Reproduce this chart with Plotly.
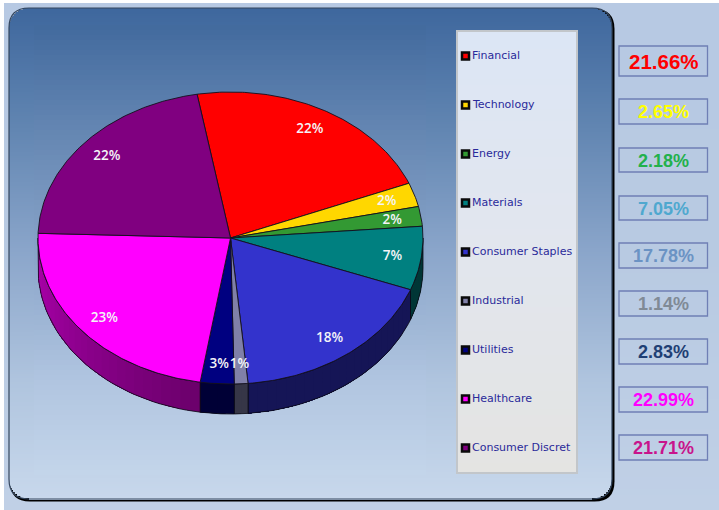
import numpy as np
import plotly.graph_objects as go

categories = ["Financial", "Technology", "Energy", "Materials", "Consumer Staples",
              "Industrial", "Utilities", "Healthcare", "Consumer Discret"]
weights = [21.66, 2.65, 2.18, 7.05, 17.78, 1.14, 2.83, 22.99, 21.71]
weight_labels = ["21.66%", "2.65%", "2.18%", "7.05%", "17.78%", "1.14%", "2.83%", "22.99%", "21.71%"]
pie_labels = ["22%", "2%", "2%", "7%", "18%", "1%", "3%", "23%", "22%"]
slice_colors = ["#ff0000", "#ffd700", "#339933", "#008080", "#3333cc",
                "#8080a8", "#000080", "#ff00ff", "#800080"]
value_colors = ["#ff0000", "#ffff00", "#22b14c", "#4fa8cf", "#6b93c4",
                "#808a96", "#1f3f74", "#ff00ff", "#c8148c"]
value_sizes = [20.5, 18, 18, 18, 18, 18, 18, 18, 18]

W, H = 719, 510
CX, CY, RX, RY, DEPTH = 230.5, 238, 192.5, 146, 30
START = -10.0


def lerp_stops(stops, y):
    ys = [s[0] for s in stops]
    return tuple(np.interp(y, ys, [s[1][i] for s in stops]) for i in range(3))


def rgb(c):
    return "rgb(%d,%d,%d)" % tuple(int(round(v)) for v in c)


def hex2rgb(h):
    return tuple(int(h[i:i + 2], 16) for i in (1, 3, 5))


def rect(x0, y0, x1, y1, color, layer="below"):
    return dict(type="rect", xref="x", yref="y", x0=x0, y0=y0, x1=x1, y1=y1,
                fillcolor=color, line=dict(width=0), layer=layer)


def rr_path(x0, y0, x1, y1, r):
    return (f"M{x0+r},{y0} L{x1-r},{y0} Q{x1},{y0} {x1},{y0+r} L{x1},{y1-r} Q{x1},{y1} {x1-r},{y1} "
            f"L{x0+r},{y1} Q{x0},{y1} {x0},{y1-r} L{x0},{y0+r} Q{x0},{y0} {x0+r},{y0} Z")


shapes = []
# Outer background
outer = [(3, (183, 201, 227)), (250, (184, 202, 226)), (510, (192, 208, 230))]
for y in range(3, H, 6):
    shapes.append(rect(4, y, W, y + 6, rgb(lerp_stops(outer, y + 3))))

# Panel shadow + gradient
PX0, PY0, PX1, PY1, PR = 9, 8, 612, 499, 20
shapes.append(dict(type="path", xref="x", yref="y", path=rr_path(PX0 + 1, PY0 + 1, PX1 + 2.5, PY1 + 2.5, PR),
                   fillcolor="#000000", line=dict(width=0), layer="below"))
panel = [(8, (62, 103, 157)), (130, (98, 134, 178)), (250, (138, 165, 202)), (380, (175, 196, 222)), (499, (200, 216, 236))]
inner = [(25, (66, 106, 158)), (130, (100, 134, 178)), (250, (136, 163, 200)), (380, (176, 197, 224)), (475, (196, 213, 234))]
for y in range(PY0, PY1, 2):
    ym = y + 1
    inset = 0.0
    if ym < PY0 + PR:
        d = PY0 + PR - ym
        inset = PR - np.sqrt(max(PR ** 2 - d ** 2, 0))
    elif ym > PY1 - PR:
        d = ym - (PY1 - PR)
        inset = PR - np.sqrt(max(PR ** 2 - d ** 2, 0))
    shapes.append(rect(PX0 + inset, y, PX1 - inset, y + 2, rgb(lerp_stops(panel, ym))))
for y in range(25, 475, 5):
    shapes.append(rect(34, y, 426, y + 5, rgb(lerp_stops(inner, y + 2.5))))
shapes.append(dict(type="path", xref="x", yref="y", path=rr_path(PX0, PY0, PX1, PY1, PR),
                   fillcolor="rgba(0,0,0,0)", line=dict(width=1.2, color="#34465e"), layer="below"))

# Legend box
legend_grad = [(31, (220, 230, 245)), (250, (226, 230, 238)), (473, (228, 228, 226))]
for y in range(31, 473, 6):
    shapes.append(rect(457, y, 577, min(y + 6, 473), rgb(lerp_stops(legend_grad, y + 3))))
shapes.append(dict(type="rect", xref="x", yref="y", x0=457, y0=31, x1=577, y1=473,
                   fillcolor="rgba(0,0,0,0)", line=dict(width=2, color="#c2c6ca"), layer="below"))

# Value boxes
box_y0 = [46, 99, 148, 196, 243, 291, 339, 387, 435]
box_y1 = [76, 124, 172, 220, 268, 316, 364, 412, 460]
for a, b in zip(box_y0, box_y1):
    shapes.append(dict(type="rect", xref="x", yref="y", x0=619, y0=a, x1=707.5, y1=b,
                       fillcolor="rgba(0,0,0,0)", line=dict(width=1.3, color="#6f7fb5"), layer="below"))

fig = go.Figure()

vals = np.array(weights, dtype=float)
frac = vals / vals.sum()
edges = START + 360 * np.concatenate([[0], np.cumsum(frac)])


def ex(t, r=1.0):
    return CX + r * RX * np.sin(np.radians(t))


def ey(t, r=1.0):
    return CY - r * RY * np.cos(np.radians(t))


def shade(t):
    # left side of the wall is lit, front and right are darker
    return float(np.interp(t, [90, 190, 270], [0.42, 0.42, 0.68]))


def add_poly(xs, ys, fill, line_color, lw=1.0):
    fig.add_trace(go.Scatter(x=list(xs), y=list(ys), mode="lines", fill="toself", fillcolor=fill,
                             line=dict(color=line_color, width=lw), hoverinfo="skip", showlegend=False))


# Side walls: front half of the ellipse only, painted in order so no seams show
for i, col in enumerate(slice_colors):
    a = max(edges[i], 90)
    b = min(edges[i + 1], 270)
    if b <= a:
        continue
    base = hex2rgb(col)
    n = max(1, int(np.ceil((b - a) / 3)))
    steps = np.linspace(a, b, n + 1)
    for s0, s1 in zip(steps[:-1], steps[1:]):
        ts = np.linspace(s0, b, max(4, int((b - s0) * 1.5)))
        c = rgb(tuple(v * shade((s0 + s1) / 2) for v in base))
        add_poly(np.r_[ex(ts), ex(ts[::-1])], np.r_[ey(ts), ey(ts[::-1]) + DEPTH], c, "rgba(0,0,0,0)", 0)
    ts = np.linspace(a, b, 40)
    fig.add_trace(go.Scatter(x=list(np.r_[ex(ts), ex(ts[::-1]), ex(ts[0])]),
                             y=list(np.r_[ey(ts), ey(ts[::-1]) + DEPTH, ey(ts[0])]),
                             mode="lines", line=dict(color="#0a0a14", width=0.8),
                             hoverinfo="skip", showlegend=False))

# Top slices
for i, col in enumerate(slice_colors):
    ts = np.linspace(edges[i], edges[i + 1], max(8, int((edges[i + 1] - edges[i]) * 1.5)))
    add_poly(np.r_[CX, ex(ts), CX], np.r_[CY, ey(ts), CY], col, "#14101c", 0.9)

# Percent labels on the slices
mids = (edges[:-1] + edges[1:]) / 2
fig.add_trace(go.Scatter(x=list(ex(mids, 0.85)), y=list(ey(mids, 0.86) + 1), mode="text",
                         text=pie_labels, textposition="middle center",
                         textfont=dict(family="Open Sans", size=13.5, color="#f4f4f8", weight=600),
                         hoverinfo="skip", showlegend=False))

# Legend swatches
legend_y = [56, 105, 154, 203, 252, 301, 350, 399, 448]
fig.add_trace(go.Scatter(x=[465.5] * len(categories), y=legend_y, mode="markers",
                         marker=dict(symbol="square", size=7, color=slice_colors,
                                     line=dict(color="#0a0a0a", width=2.5)),
                         hoverinfo="skip", showlegend=False))

annotations = []
for name, y in zip(categories, legend_y):
    annotations.append(dict(x=469.5, y=y - 0.5, xref="x", yref="y", text=name, showarrow=False,
                            xanchor="left", yanchor="middle",
                            font=dict(family="DejaVu Sans", size=11, color="#2a2a9a")))
for lab, col, sz, a, b in zip(weight_labels, value_colors, value_sizes, box_y0, box_y1):
    annotations.append(dict(x=663.5, y=(a + b) / 2 + 0.5, xref="x", yref="y", text=f"<b>{lab}</b>", showarrow=False,
                            xanchor="center", yanchor="middle",
                            font=dict(family="Liberation Sans", size=sz, color=col)))

fig.update_layout(
    width=W, height=H, margin=dict(l=0, r=0, t=0, b=0, pad=0),
    paper_bgcolor="#ffffff", plot_bgcolor="rgba(0,0,0,0)",
    xaxis=dict(range=[0, W], visible=False, fixedrange=True),
    yaxis=dict(range=[H, 0], visible=False, fixedrange=True),
    shapes=shapes, annotations=annotations, showlegend=False, hovermode=False,
)

fig.write_html("out.html", config={"displayModeBar": False},
               post_script="document.body.style.margin='0';document.documentElement.style.overflow='hidden';")
